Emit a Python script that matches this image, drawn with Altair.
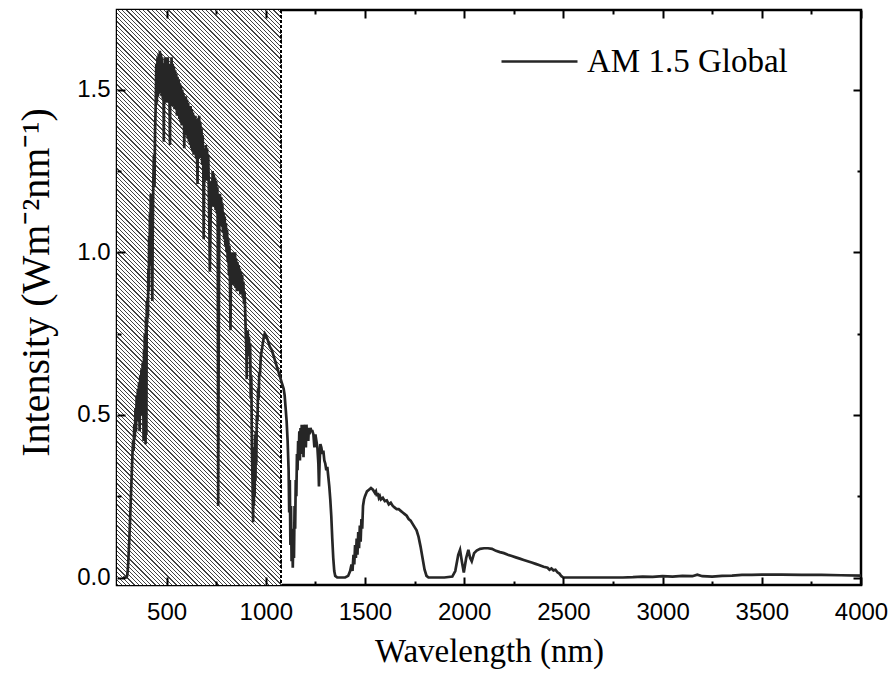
import altair as alt
import pandas as pd

# ---------------- data ----------------
UV = [(280, 0.0), (290, 0.0), (298, 0.0), (301, 0.005), (304, 0.02), (307, 0.05), (310, 0.09),
      (313, 0.13), (316, 0.18), (319, 0.23), (322, 0.28), (325, 0.33), (328, 0.38), (331, 0.42),
      (334, 0.39), (337, 0.47), (340, 0.43), (343, 0.52), (346, 0.45), (349, 0.56), (352, 0.48),
      (355, 0.58), (358, 0.50), (361, 0.60), (364, 0.45), (367, 0.62), (370, 0.55), (373, 0.64),
      (376, 0.50), (379, 0.66), (382, 0.58), (384, 0.42), (386, 0.70), (388, 0.56), (390, 0.75),
      (392, 0.62), (394, 0.41), (396, 0.80), (398, 0.44), (400, 0.85), (402, 0.78), (404, 0.86),
      (406, 0.80), (408, 0.95), (410, 0.88), (412, 1.05), (414, 0.96), (416, 1.12), (418, 1.04),
      (420, 1.18), (422, 1.08), (424, 1.15), (426, 0.95), (428, 0.85)]

VIS = [(430, 1.05), (433, 1.22), (436, 1.30), (439, 1.20), (442, 1.38), (445, 1.45), (448, 1.58),
       (451, 1.46), (454, 1.60), (457, 1.48), (460, 1.61), (463, 1.50), (466, 1.62), (469, 1.49),
       (472, 1.61), (475, 1.48), (478, 1.60), (481, 1.47), (484, 1.58), (486, 1.34), (488, 1.57),
       (491, 1.46), (494, 1.60), (497, 1.48), (500, 1.59), (503, 1.46), (506, 1.60), (509, 1.47),
       (512, 1.58), (515, 1.45), (517, 1.33), (519, 1.56), (522, 1.45), (525, 1.60), (528, 1.46),
       (531, 1.58), (534, 1.45), (537, 1.57), (540, 1.44), (543, 1.56), (546, 1.44), (549, 1.55),
       (552, 1.42), (555, 1.54), (558, 1.42), (561, 1.53), (564, 1.41), (567, 1.52), (570, 1.40),
       (573, 1.51), (576, 1.39), (579, 1.50), (582, 1.39), (585, 1.49), (588, 1.38), (589, 1.32),
       (591, 1.48), (594, 1.37), (597, 1.48), (600, 1.36), (603, 1.47), (606, 1.35), (609, 1.46),
       (612, 1.34), (615, 1.45), (618, 1.33), (621, 1.45), (624, 1.32), (627, 1.44), (630, 1.31),
       (633, 1.43), (636, 1.30), (639, 1.42), (642, 1.30), (645, 1.42), (648, 1.29), (651, 1.41),
       (654, 1.28), (656, 1.21), (658, 1.40), (661, 1.29), (664, 1.42), (667, 1.30), (670, 1.40),
       (673, 1.29), (676, 1.38), (679, 1.27), (682, 1.36), (685, 1.25), (687, 1.04), (689, 1.20),
       (692, 1.32), (695, 1.22), (698, 1.33), (701, 1.24)]

NIR = [(704, 1.32), (707, 1.22), (710, 1.30), (713, 1.18), (716, 1.05), (718, 0.94), (720, 1.02),
       (723, 1.15), (726, 1.22), (729, 1.14), (732, 1.25), (735, 1.15), (738, 1.24), (741, 1.14),
       (744, 1.23), (747, 1.13), (750, 1.22), (753, 1.12), (756, 1.20), (758, 1.05), (760, 0.22),
       (762, 0.60), (764, 0.90), (766, 1.10), (769, 1.18), (772, 1.10), (775, 1.17), (778, 1.08),
       (781, 1.15), (784, 1.06), (787, 1.12), (790, 1.04), (793, 1.11), (796, 1.02), (799, 1.09),
       (802, 1.00), (805, 1.07), (808, 0.97), (811, 1.04), (814, 0.93), (817, 1.02), (820, 0.88),
       (822, 0.76), (824, 0.90), (827, 1.00), (830, 0.92), (833, 1.00), (836, 0.90), (839, 0.99),
       (842, 0.91), (845, 1.00), (848, 0.89), (851, 0.98), (854, 0.88), (857, 0.97), (860, 0.88),
       (863, 0.96), (866, 0.88), (869, 0.95), (872, 0.87), (875, 0.94), (878, 0.87), (881, 0.93),
       (884, 0.86), (887, 0.91), (890, 0.84), (893, 0.88), (896, 0.82), (899, 0.75), (902, 0.70),
       (904, 0.61), (906, 0.72), (909, 0.76), (912, 0.70), (915, 0.74), (918, 0.68), (921, 0.72),
       (924, 0.55), (927, 0.62), (930, 0.40), (933, 0.30), (936, 0.17), (938, 0.35), (940, 0.22),
       (942, 0.40), (944, 0.25), (946, 0.44), (948, 0.30), (950, 0.45), (952, 0.35), (955, 0.50),
       (958, 0.48), (961, 0.58), (964, 0.55), (967, 0.63), (970, 0.62), (975, 0.68), (980, 0.70),
       (985, 0.72), (990, 0.74), (995, 0.75)]

IR = [(1000, 0.745), (1010, 0.73), (1020, 0.71), (1030, 0.70), (1040, 0.68), (1050, 0.66),
      (1060, 0.64), (1070, 0.62), (1080, 0.60), (1090, 0.58), (1095, 0.56), (1100, 0.52),
      (1105, 0.48), (1110, 0.42), (1115, 0.33), (1118, 0.20), (1121, 0.30), (1124, 0.10),
      (1127, 0.22), (1130, 0.05), (1133, 0.15), (1136, 0.03), (1139, 0.12), (1142, 0.06),
      (1145, 0.22), (1148, 0.15), (1151, 0.30), (1154, 0.25), (1157, 0.38), (1160, 0.33),
      (1163, 0.42), (1166, 0.38), (1169, 0.45), (1172, 0.36), (1175, 0.46), (1178, 0.38),
      (1181, 0.47), (1184, 0.40), (1187, 0.46), (1190, 0.37), (1193, 0.47), (1196, 0.42),
      (1199, 0.46), (1202, 0.40), (1205, 0.47), (1208, 0.43), (1211, 0.46), (1214, 0.42),
      (1217, 0.46), (1220, 0.44), (1225, 0.46), (1230, 0.45), (1235, 0.45), (1240, 0.44),
      (1245, 0.40), (1250, 0.44), (1255, 0.42), (1260, 0.40), (1265, 0.35), (1268, 0.28),
      (1271, 0.35), (1275, 0.41), (1280, 0.40), (1285, 0.38), (1290, 0.39), (1295, 0.36),
      (1300, 0.35), (1305, 0.33), (1310, 0.34), (1315, 0.31), (1320, 0.28), (1325, 0.24),
      (1330, 0.19), (1335, 0.12), (1340, 0.06), (1345, 0.02), (1350, 0.005), (1360, 0.0),
      (1380, 0.0), (1400, 0.0), (1415, 0.005), (1425, 0.02), (1432, 0.04), (1437, 0.02),
      (1442, 0.07), (1446, 0.04), (1450, 0.10), (1454, 0.06), (1458, 0.12), (1462, 0.07),
      (1466, 0.14), (1470, 0.09), (1474, 0.16), (1478, 0.11), (1482, 0.18), (1486, 0.15),
      (1490, 0.22), (1495, 0.24), (1500, 0.25), (1510, 0.265), (1520, 0.27), (1530, 0.275),
      (1540, 0.27), (1550, 0.26), (1555, 0.265), (1560, 0.25), (1565, 0.26), (1570, 0.245),
      (1575, 0.25), (1580, 0.24), (1590, 0.245), (1600, 0.235), (1610, 0.237), (1620, 0.225),
      (1630, 0.23), (1640, 0.22), (1650, 0.215), (1660, 0.21), (1670, 0.21), (1680, 0.205),
      (1690, 0.20), (1700, 0.195), (1710, 0.19), (1720, 0.18), (1730, 0.175), (1740, 0.165),
      (1750, 0.155), (1760, 0.145), (1770, 0.125), (1780, 0.095), (1790, 0.06), (1800, 0.025),
      (1810, 0.005)]

FAR_IR = [(1820, 0.0), (1900, 0.0), (1940, 0.003), (1955, 0.02), (1970, 0.07), (1979, 0.085),
          (1988, 0.05), (1998, 0.015), (2010, 0.06), (2021, 0.085), (2030, 0.06), (2038, 0.05),
          (2050, 0.075), (2063, 0.083), (2080, 0.088), (2100, 0.09), (2120, 0.09), (2140, 0.088),
          (2160, 0.082), (2180, 0.078), (2200, 0.075), (2220, 0.07), (2240, 0.066), (2260, 0.062),
          (2280, 0.058), (2300, 0.054), (2320, 0.05), (2340, 0.046), (2360, 0.042), (2380, 0.038),
          (2400, 0.033), (2420, 0.03), (2430, 0.024), (2440, 0.028), (2450, 0.022), (2460, 0.024),
          (2470, 0.016), (2480, 0.012), (2490, 0.004), (2500, 0.0), (2600, 0.0), (2700, 0.0),
          (2800, 0.0), (2850, 0.001), (2900, 0.003), (2950, 0.002), (3000, 0.004), (3050, 0.003),
          (3100, 0.005), (3150, 0.004), (3175, 0.009), (3200, 0.004), (3250, 0.003), (3300, 0.005),
          (3350, 0.006), (3400, 0.008), (3450, 0.008), (3500, 0.009), (3600, 0.009), (3700, 0.008),
          (3800, 0.008), (3900, 0.007), (4000, 0.006)]

SERIES_NAME = "AM 1.5 Global"
X_TITLE = "Wavelength (nm)"
Y_TITLE = "Intensity (Wm\u207b\u00b2nm\u207b\u00b9)"
X_MAJOR = [500, 1000, 1500, 2000, 2500, 3000, 3500, 4000]
X_MINOR = [750, 1250, 1750, 2250, 2750, 3250, 3750]
Y_MAJOR = [0.0, 0.5, 1.0, 1.5]
Y_MINOR = [0.25, 0.75, 1.25]
X_DOMAIN = [250, 4000]
Y_DOMAIN = [-0.023, 1.745]
SHADE_START = 250
SHADE_END = 1078

# ---------------- layout / style ----------------
PLOT_W, PLOT_H = 744, 575
LINE_COLOR = "#262626"
SERIF = "Liberation Serif"
SANS = "Liberation Sans"

rows = []
for seg in (UV, VIS, NIR, IR, FAR_IR):
    for wl, val in seg:
        rows.append({"wavelength": wl, "intensity": val, "series": SERIES_NAME})
df = pd.DataFrame(rows)

xscale = alt.Scale(domain=X_DOMAIN, nice=False, zero=False)
yscale = alt.Scale(domain=Y_DOMAIN, nice=False, zero=False)

# hatch pattern as a striped linear gradient (45 degree "\" stripes)
shade_w = (SHADE_END - SHADE_START) / (X_DOMAIN[1] - X_DOMAIN[0]) * PLOT_W
r = PLOT_H / shade_w
c = (1 + r) / (1 + r * r)
period_px = 4.2
n_per = int(round((shade_w + PLOT_H) / period_px))
frac = 0.3
stops = []
for k in range(n_per):
    a = k / n_per
    b = (k + frac) / n_per
    e = (k + 1) / n_per
    stops += [alt.GradientStop(offset=round(a, 6), color="#444444"),
              alt.GradientStop(offset=round(b, 6), color="#444444"),
              alt.GradientStop(offset=round(b, 6), color="#ffffff"),
              alt.GradientStop(offset=round(e, 6), color="#ffffff")]
hatch_fill = alt.Gradient(gradient="linear", stops=stops, x1=0, y1=1, x2=c, y2=1 - r * c)

hatch = alt.Chart(df).mark_rect(fill=hatch_fill, strokeWidth=0).encode(
    x=alt.X(datum=SHADE_START, type="quantitative", scale=xscale, axis=None),
    x2=alt.X2(datum=SHADE_END),
)

dashed = alt.Chart(df).mark_rule(color="black", strokeWidth=1, strokeDash=[3, 2]).encode(
    x=alt.X(datum=SHADE_END, type="quantitative", scale=xscale, axis=None),
)

def ax(orient, values, size, labels=False, title=None, fmt=None, pad=0, tpad=0, extra=None):
    kw = dict(orient=orient, values=values, offset=-size, tickSize=size, domain=False,
              grid=False, labels=labels, ticks=True, zindex=2)
    if title is not None:
        kw["title"] = title
        kw["titlePadding"] = tpad
    else:
        kw["title"] = None
    if fmt is not None:
        kw["format"] = fmt
    if labels:
        kw["labelPadding"] = pad
    if extra:
        kw.update(extra)
    return alt.Axis(**kw)

line = alt.Chart(df).mark_line(strokeWidth=2.7, strokeJoin="miter").encode(
    x=alt.X("wavelength:Q", scale=xscale,
            axis=ax("bottom", X_MAJOR, 8, labels=True, title=X_TITLE, fmt="d", pad=15, tpad=11)),
    y=alt.Y("intensity:Q", scale=yscale,
            axis=ax("left", Y_MAJOR, 8, labels=True, title=Y_TITLE, fmt=".1f", pad=7, tpad=20,
                    extra={"titleFontSize": 40, "titleY": 272})),
    color=alt.Color("series:N", scale=alt.Scale(range=[LINE_COLOR]),
                    legend=alt.Legend(title=None, orient="none", legendX=383, legendY=12,
                                      symbolType="stroke", symbolSize=5776, symbolStrokeWidth=2.3,
                                      labelFont=SERIF, labelFontSize=33, labelColor="black",
                                      labelLimit=500, labelOffset=8, padding=0)),
)

def ghost(xaxis, yaxis):
    return alt.Chart(df).mark_line(strokeOpacity=0).encode(
        x=alt.X("wavelength:Q", scale=xscale, axis=xaxis),
        y=alt.Y("intensity:Q", scale=yscale, axis=yaxis),
    )

g1 = ghost(ax("bottom", X_MINOR, 4), ax("left", Y_MINOR, 4))
g2 = ghost(ax("top", X_MAJOR, 8), ax("right", Y_MAJOR, 8))
g3 = ghost(ax("top", X_MINOR, 4), ax("right", Y_MINOR, 4))

chart = alt.layer(hatch, dashed, line, g1, g2, g3).resolve_axis(
    x="independent", y="independent"
).properties(
    width=PLOT_W, height=PLOT_H,
    padding={"left": 117, "top": 10, "right": 33, "bottom": 95},
    autosize=alt.AutoSizeParams(type="none"),
).configure_view(
    stroke="black", strokeWidth=2.5
).configure_axis(
    labelFont=SANS, labelFontSize=24, labelColor="black",
    tickColor="black", tickWidth=2,
    titleFont=SERIF, titleFontSize=33, titleFontWeight="normal", titleColor="black",
    labelFlush=False, labelOverlap=False,
)

chart.save("out.html", embed_options={"renderer": "svg", "actions": False})
